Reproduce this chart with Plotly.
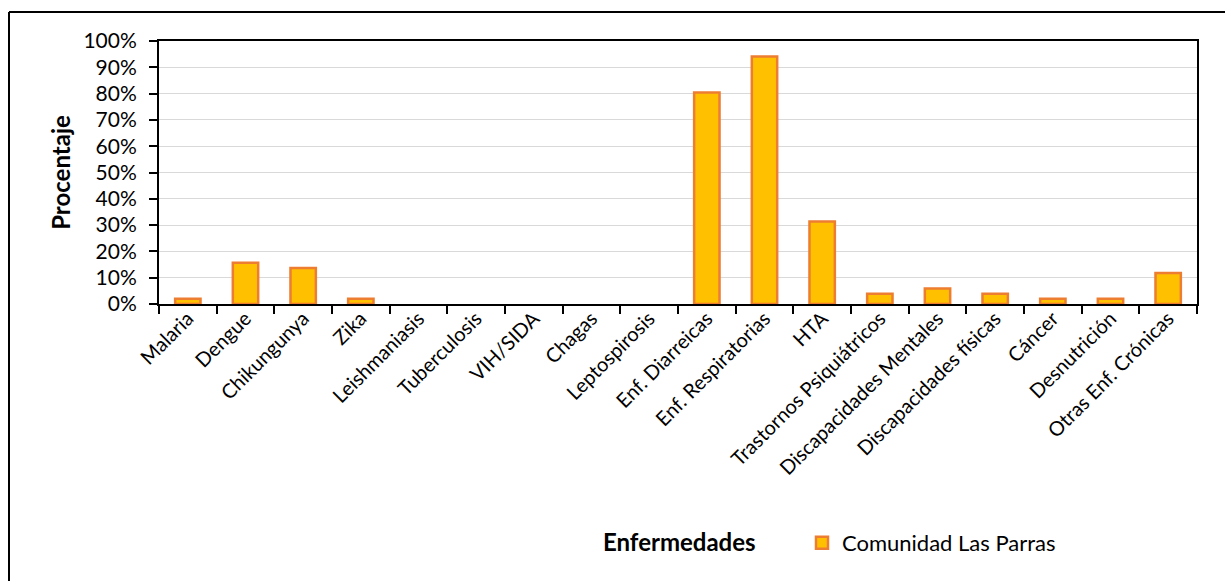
import plotly.graph_objects as go

# Disease categories and share of the community affected (%)
enfermedades = [
    "Malaria", "Dengue", "Chikungunya", "Zika", "Leishmaniasis", "Tuberculosis",
    "VIH/SIDA", "Chagas", "Leptospirosis", "Enf. Diarreicas", "Enf. Respiratorias",
    "HTA", "Trastornos Psiquiátricos", "Discapacidades Mentales",
    "Discapacidades físicas", "Cáncer", "Desnutrición", "Otras Enf. Crónicas",
]
porcentaje = [
    1.96, 15.69, 13.73, 1.96, 0, 0,
    0, 0, 0, 80.39, 94.12,
    31.37, 3.92, 5.88,
    3.92, 1.96, 1.96, 11.76,
]
serie = "Comunidad Las Parras"
y_ticks = list(range(0, 101, 10))

W, H = 1225, 581
ML, MR, MT, MB = 159, 28, 41, 277
PW, PH = W - ML - MR, H - MT - MB


def px_x(x):
    return (x - ML) / PW


def px_y(y):
    return (H - MB - y) / PH


FONT = "Lato"

# empty categories get no outline so nothing sits on the baseline
outline_w = [2.5 if v > 0 else 0 for v in porcentaje]

fig = go.Figure()
fig.add_trace(go.Bar(
    x=enfermedades,
    y=porcentaje,
    name=serie,
    marker=dict(color="#FFC000", line=dict(color="#ED7D31", width=outline_w)),
    showlegend=True,
))

fig.update_layout(
    width=W, height=H,
    margin=dict(l=ML, r=MR, t=MT, b=MB, pad=0),
    paper_bgcolor="white", plot_bgcolor="white",
    bargap=0.56,
    font=dict(family=FONT, size=21, color="black"),
    showlegend=True,
    legend=dict(
        x=px_x(802), y=px_y(543), xanchor="left", yanchor="middle",
        orientation="h", font=dict(family=FONT, size=22, color="black"),
        bgcolor="rgba(0,0,0,0)", itemwidth=30,
    ),
    annotations=[dict(
        text="<b>Enfermedades</b>", xref="paper", yref="paper",
        x=px_x(679), y=px_y(541), xanchor="center", yanchor="middle",
        showarrow=False, font=dict(family=FONT, size=24, color="black"),
    )],
    shapes=[
        dict(type="line", xref="paper", yref="paper",
             x0=px_x(9), x1=px_x(9), y0=px_y(12), y1=px_y(H + 5),
             line=dict(color="black", width=2)),
        dict(type="line", xref="paper", yref="paper",
             x0=px_x(9), x1=px_x(W + 5), y0=px_y(12), y1=px_y(12),
             line=dict(color="black", width=2)),
    ],
)

fig.update_xaxes(
    type="category",
    tickangle=-45,
    tickson="boundaries",
    ticks="outside", ticklen=8, tickwidth=2, tickcolor="black",
    ticklabelstandoff=-7,
    showline=True, linecolor="black", linewidth=2, mirror=True,
    showgrid=False,
    tickfont=dict(family=FONT, size=20, color="black"),
)
fig.update_yaxes(
    range=[0, 100],
    tickvals=y_ticks,
    ticktext=[f"{v}%" for v in y_ticks],
    ticks="outside", ticklen=8, tickwidth=2, tickcolor="black",
    ticklabelstandoff=8,
    showline=True, linecolor="black", linewidth=2, mirror=True,
    showgrid=True, gridcolor="#D9D9D9", gridwidth=1.3,
    zeroline=False,
    tickfont=dict(family=FONT, size=21, color="black"),
    title=dict(text="<b>Procentaje</b>", standoff=6,
               font=dict(family=FONT, size=24, color="black")),
)

fig.write_html("out.html")
